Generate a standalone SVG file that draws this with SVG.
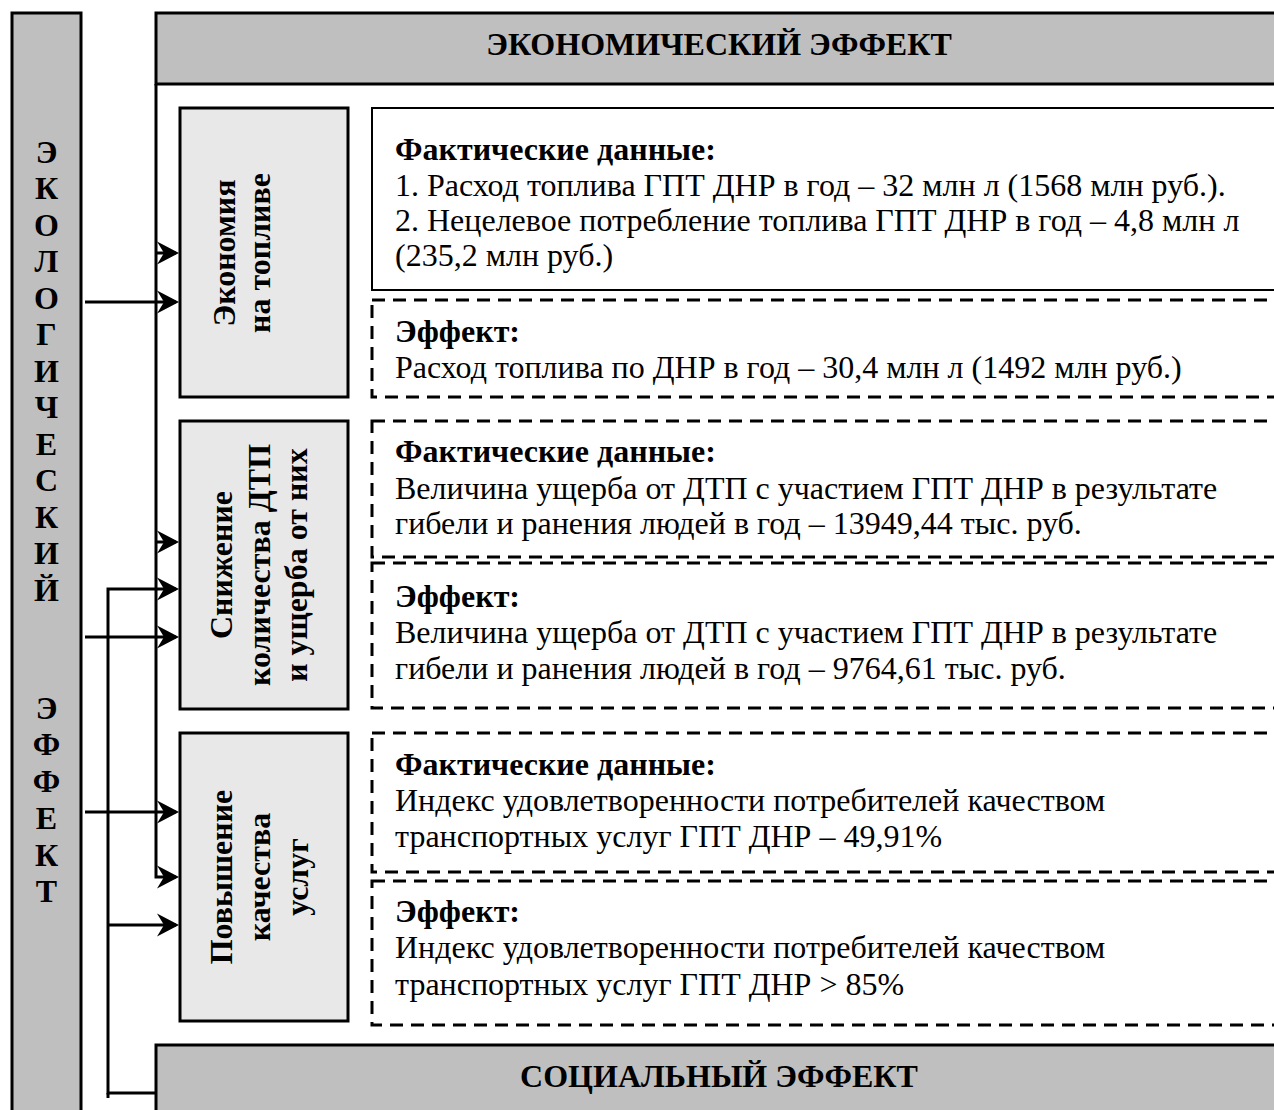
<svg xmlns="http://www.w3.org/2000/svg" width="1274" height="1110" viewBox="0 0 1274 1110">
<defs>
<style>
.t{font-family:"Liberation Serif","Times New Roman",serif;font-size:32px;fill:#000}
.b{font-weight:bold}
.bar{fill:#bfbfbf;stroke:#000;stroke-width:3}
.node{fill:#e8e8e8;stroke:#000;stroke-width:3}
.solid{fill:#fff;stroke:#000;stroke-width:2}
.dash{fill:none;stroke:#000;stroke-width:3;stroke-dasharray:13 8}
.conn{fill:none;stroke:#000;stroke-width:3}
.arr{marker-end:url(#ah)}
</style>
<marker id="ah" markerUnits="userSpaceOnUse" viewBox="0 0 24 24" markerWidth="24" markerHeight="24" refX="19" refY="12" orient="auto">
<path d="M0,0.5 L22,12 L0,23.5 L7,12 Z" fill="#000"/>
</marker>
</defs>
<rect width="1274" height="1110" fill="#fff"/>

<g id="eco">
<rect class="bar" x="12" y="13" width="69" height="1110"/>
<g class="t b" text-anchor="middle">
<text x="46.5" y="163">Э</text>
<text x="46.5" y="199">К</text>
<text x="46.5" y="236">О</text>
<text x="46.5" y="272">Л</text>
<text x="46.5" y="309">О</text>
<text x="46.5" y="345">Г</text>
<text x="46.5" y="382">И</text>
<text x="46.5" y="418">Ч</text>
<text x="46.5" y="455">Е</text>
<text x="46.5" y="491">С</text>
<text x="46.5" y="528">К</text>
<text x="46.5" y="564">И</text>
<text x="46.5" y="601">Й</text>
<text x="46.5" y="719">Э</text>
<text x="46.5" y="755">Ф</text>
<text x="46.5" y="792">Ф</text>
<text x="46.5" y="829">Е</text>
<text x="46.5" y="866">К</text>
<text x="46.5" y="902">Т</text>
</g>
</g>

<g id="econ">
<rect class="bar" x="156" y="13" width="1130" height="71"/>
<text class="t b" x="719" y="55" text-anchor="middle">ЭКОНОМИЧЕСКИЙ ЭФФЕКТ</text>
</g>

<g id="social">
<rect class="bar" x="156" y="1045" width="1130" height="80"/>
<text class="t b" x="719" y="1087" text-anchor="middle">СОЦИАЛЬНЫЙ ЭФФЕКТ</text>
</g>

<g id="node-fuel">
<rect class="node" x="180" y="108" width="168" height="289"/>
<text class="t b" text-anchor="middle" transform="translate(235,253) rotate(-90)">Экономия</text>
<text class="t b" text-anchor="middle" transform="translate(270,253) rotate(-90)">на топливе</text>
</g>

<g id="node-dtp">
<rect class="node" x="180" y="421" width="168" height="288"/>
<text class="t b" text-anchor="middle" transform="translate(232,565) rotate(-90)">Снижение</text>
<text class="t b" text-anchor="middle" transform="translate(270,565) rotate(-90)">количества ДТП</text>
<text class="t b" text-anchor="middle" transform="translate(307,565) rotate(-90)">и ущерба от них</text>
</g>

<g id="node-quality">
<rect class="node" x="180" y="733" width="168" height="288"/>
<text class="t b" text-anchor="middle" transform="translate(232,877) rotate(-90)">Повышение</text>
<text class="t b" text-anchor="middle" transform="translate(270,877) rotate(-90)">качества</text>
<text class="t b" text-anchor="middle" transform="translate(308,877) rotate(-90)">услуг</text>
</g>

<g id="fact-fuel">
<rect class="solid" x="372" y="108" width="920" height="182"/>
<text class="t" x="395" y="160"><tspan class="b">Фактические данные:</tspan><tspan x="395" y="196">1. Расход топлива ГПТ ДНР в год – 32 млн л (1568 млн руб.).</tspan><tspan x="395" y="231">2. Нецелевое потребление топлива ГПТ ДНР в год – 4,8 млн л</tspan><tspan x="395" y="266">(235,2 млн руб.)</tspan></text>
</g>

<g id="effect-fuel">
<rect class="dash" x="372" y="300" width="920" height="97"/>
<text class="t" x="395" y="342"><tspan class="b">Эффект:</tspan><tspan x="395" y="378">Расход топлива по ДНР в год – 30,4 млн л (1492 млн руб.)</tspan></text>
</g>

<g id="fact-dtp">
<rect class="dash" x="372" y="421" width="920" height="136"/>
<text class="t" x="395" y="462"><tspan class="b">Фактические данные:</tspan><tspan x="395" y="499">Величина ущерба от ДТП с участием ГПТ ДНР в результате</tspan><tspan x="395" y="534">гибели и ранения людей в год – 13949,44 тыс. руб.</tspan></text>
</g>

<g id="effect-dtp">
<rect class="dash" x="372" y="563" width="920" height="145"/>
<text class="t" x="395" y="607"><tspan class="b">Эффект:</tspan><tspan x="395" y="643">Величина ущерба от ДТП с участием ГПТ ДНР в результате</tspan><tspan x="395" y="679">гибели и ранения людей в год – 9764,61 тыс. руб.</tspan></text>
</g>

<g id="fact-quality">
<rect class="dash" x="372" y="733" width="920" height="139"/>
<text class="t" x="395" y="775"><tspan class="b">Фактические данные:</tspan><tspan x="395" y="811">Индекс удовлетворенности потребителей качеством</tspan><tspan x="395" y="847">транспортных услуг ГПТ ДНР – 49,91%</tspan></text>
</g>

<g id="effect-quality">
<rect class="dash" x="372" y="881" width="920" height="144"/>
<text class="t" x="395" y="922"><tspan class="b">Эффект:</tspan><tspan x="395" y="958">Индекс удовлетворенности потребителей качеством</tspan><tspan x="395" y="995">транспортных услуг ГПТ ДНР &gt; 85%</tspan></text>
</g>

<g id="connectors" class="conn">
<path d="M156,84 V877 H176" class="arr"/>
<path d="M156,253 H176" class="arr"/>
<path d="M156,542 H176" class="arr"/>
<path d="M85,302 H176" class="arr"/>
<path d="M85,637 H176" class="arr"/>
<path d="M85,812 H176" class="arr"/>
<path d="M156,1093 H108 V589 H176" class="arr"/>
<path d="M108,1093 V1098"/>
<path d="M108,925 H176" class="arr"/>
</g>
</svg>
